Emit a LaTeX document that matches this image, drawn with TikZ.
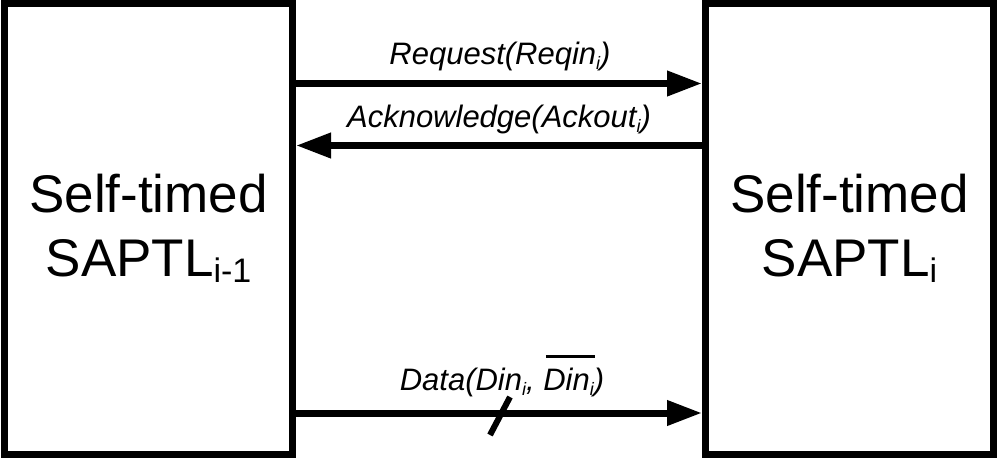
\documentclass[tikz,border=0pt]{standalone}
\usepackage{fontspec}
\setmainfont{Liberation Sans}
\usetikzlibrary{arrows.meta}
\newcommand\lowsub[1]{\raisebox{-0.18em}{\fontsize{18}{18}\selectfont #1}}
\newcommand\bigsub[1]{\raisebox{-0.12em}{\fontsize{34}{34}\selectfont #1}}
% complement bar set well above the letters
\newsavebox\barbox
\newcommand\cbar[1]{\sbox\barbox{#1}\rlap{\hspace{0.08em}\raisebox{1.04em}{\rule{\dimexpr\wd\barbox-0.04em\relax}{2.6pt}}}\usebox\barbox}
\begin{document}
\begin{tikzpicture}[x=1pt,y=-1pt,
  stage/.style={draw, line width=7pt, minimum width=288pt, minimum height=451pt,
    align=center, font=\fontsize{53}{64}\selectfont, inner sep=0pt},
  link/.style={line width=7pt, -{Triangle[length=35pt,width=24pt]}},
  lbl/.style={anchor=base, font=\fontsize{31}{31}\selectfont\itshape, inner sep=0pt}]
\useasboundingbox (0,0) rectangle (997,458);
\fill[white] (0,0) rectangle (997,458);

% the two pipeline stages
\node[stage] (L) at (148.5,228.5) {Self-timed\\SAPTL\bigsub{i-1}};
\node[stage] (R) at (849.5,228.5) {Self-timed\\SAPTL\bigsub{i}};

% rows of the handshake channel
\coordinate (yreq) at (0,83.5);
\coordinate (yack) at (0,145.5);
\coordinate (ydat) at (0,413);

\draw[link] (L.east |- yreq) -- (R.west |- yreq);
\draw[link] (R.west |- yack) -- (L.east |- yack);
\draw[link] (L.east |- ydat) -- (R.west |- ydat);

% bus width mark on the data line
\coordinate (s1) at (490,435);
\coordinate (s2) at (510,397);
\draw[line width=6pt] (s1) -- (s2);

% channel labels
\node[lbl] (lreq) at (500,64) {Request(Reqin\lowsub{i})};
\node[lbl] (lack) at (499,127) {Acknowledge(Ackout\lowsub{i})};
\node[lbl] (ldat) at (502,390) {Data(Din\lowsub{i}, \cbar{Din\lowsub{i}})};
\end{tikzpicture}
\end{document}
